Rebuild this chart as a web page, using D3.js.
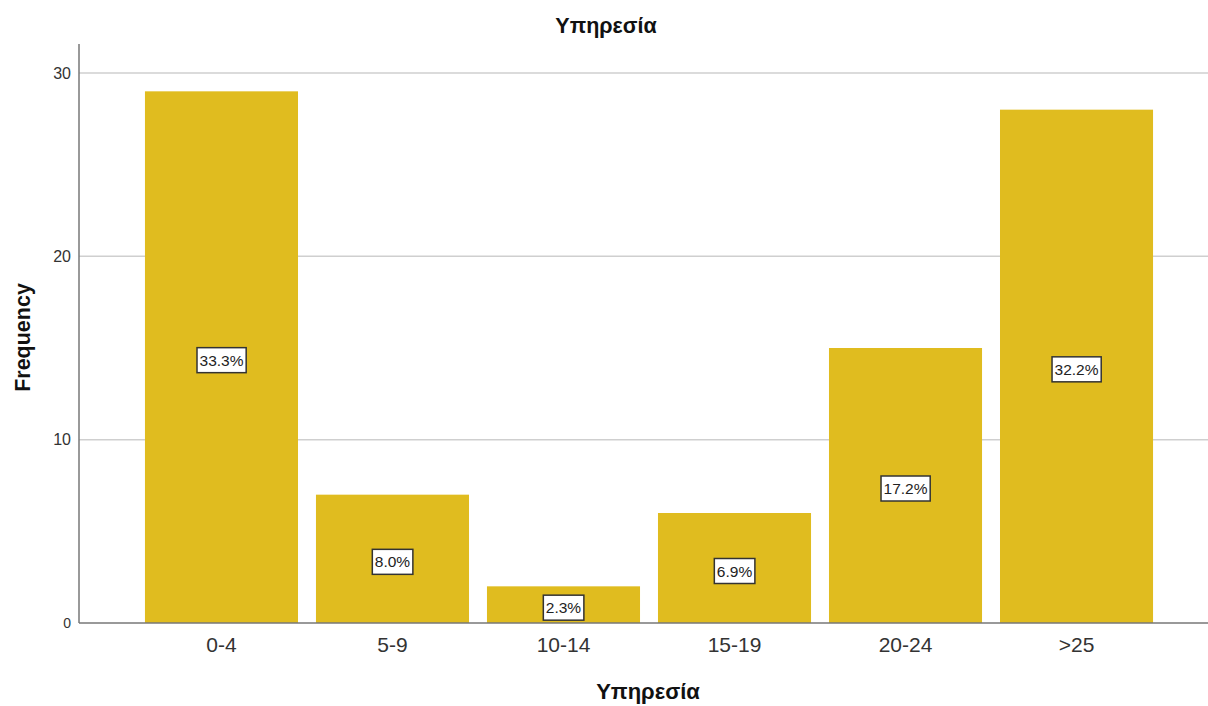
<!DOCTYPE html>
<html>
<head>
<meta charset="utf-8">
<script src="https://cdn.jsdelivr.net/npm/d3@7"></script>
<style>
  html, body { margin: 0; padding: 0; background: #fff; }
  svg { display: block; font-family: Arial, "Liberation Sans", sans-serif; }
</style>
</head>
<body>
<svg id="chart" width="1208" height="706"></svg>
<script>
// Years of service groups and their counts
const categories = ["0-4", "5-9", "10-14", "15-19", "20-24", ">25"];
const frequencies = [29, 7, 2, 6, 15, 28];
const percentLabels = ["33.3%", "8.0%", "2.3%", "6.9%", "17.2%", "32.2%"];
const yTicks = [0, 10, 20, 30];

const chartTitle = "Υπηρεσία";
const xTitle = "Υπηρεσία";
const yTitle = "Frequency";

const plot = { left: 79, right: 1208, top: 44, bottom: 623 };

const svg = d3.select("#chart");

const x = d3.scaleBand()
  .domain(categories)
  .range([127, 1171])
  .paddingInner(0.105)
  .paddingOuter(0.105);

const y = d3.scaleLinear()
  .domain([0, 30])
  .range([plot.bottom, 73]);

// horizontal gridlines
svg.append("g")
  .selectAll("line")
  .data(yTicks.filter(d => d > 0))
  .join("line")
  .attr("x1", plot.left)
  .attr("x2", plot.right)
  .attr("y1", d => y(d))
  .attr("y2", d => y(d))
  .attr("stroke", "#cfcfcf")
  .attr("stroke-width", 1.5);

// bars
svg.append("g")
  .selectAll("rect")
  .data(frequencies)
  .join("rect")
  .attr("x", (d, i) => x(categories[i]))
  .attr("y", d => y(d))
  .attr("width", x.bandwidth())
  .attr("height", d => y(0) - y(d))
  .attr("fill", "#e0bc1f");

// y axis
const yAxis = d3.axisLeft(y).tickValues(yTicks).tickSize(0).tickPadding(8);
const gy = svg.append("g")
  .attr("transform", `translate(${plot.left},0)`)
  .call(yAxis);
gy.select(".domain").remove();
gy.append("line")
  .attr("x1", 0).attr("x2", 0)
  .attr("y1", plot.top).attr("y2", plot.bottom)
  .attr("stroke", "#777").attr("stroke-width", 1.5);
gy.selectAll(".tick text")
  .attr("fill", "#333")
  .style("font-size", d => d === 0 ? "14px" : "16px");

// x axis
const xAxis = d3.axisBottom(x).tickSize(0).tickPadding(14);
const gx = svg.append("g")
  .attr("transform", `translate(0,${plot.bottom})`)
  .call(xAxis);
gx.select(".domain").remove();
gx.append("line")
  .attr("x1", plot.left).attr("x2", plot.right)
  .attr("y1", 0).attr("y2", 0)
  .attr("stroke", "#777").attr("stroke-width", 1.5);
gx.selectAll(".tick text")
  .attr("fill", "#333")
  .style("font-size", "21px");

// percentage labels in boxes at bar mid-height
const labels = svg.append("g")
  .selectAll("g")
  .data(frequencies)
  .join("g")
  .attr("transform", (d, i) =>
    `translate(${x(categories[i]) + x.bandwidth() / 2},${y(d / 2) + 3})`);

labels.each(function (d, i) {
  const g = d3.select(this);
  const t = g.append("text")
    .attr("text-anchor", "middle")
    .attr("dy", "0.36em")
    .attr("fill", "#222")
    .style("font-size", "15.5px")
    .text(percentLabels[i]);
  const bb = t.node().getBBox();
  g.insert("rect", "text")
    .attr("x", bb.x - 2.5)
    .attr("y", -12.5)
    .attr("width", bb.width + 5)
    .attr("height", 25)
    .attr("fill", "#fff")
    .attr("stroke", "#333")
    .attr("stroke-width", 1.5);
});

// titles
svg.append("text")
  .attr("x", 606)
  .attr("y", 33)
  .attr("text-anchor", "middle")
  .style("font-size", "21.5px")
  .style("font-weight", "bold")
  .attr("fill", "#111")
  .text(chartTitle);

svg.append("text")
  .attr("x", 648)
  .attr("y", 699)
  .attr("text-anchor", "middle")
  .style("font-size", "22px")
  .style("font-weight", "bold")
  .attr("fill", "#111")
  .text(xTitle);

svg.append("text")
  .attr("transform", `translate(30,337.5) rotate(-90)`)
  .attr("text-anchor", "middle")
  .style("font-size", "21.5px")
  .style("font-weight", "bold")
  .attr("fill", "#111")
  .text(yTitle);
</script>
</body>
</html>
